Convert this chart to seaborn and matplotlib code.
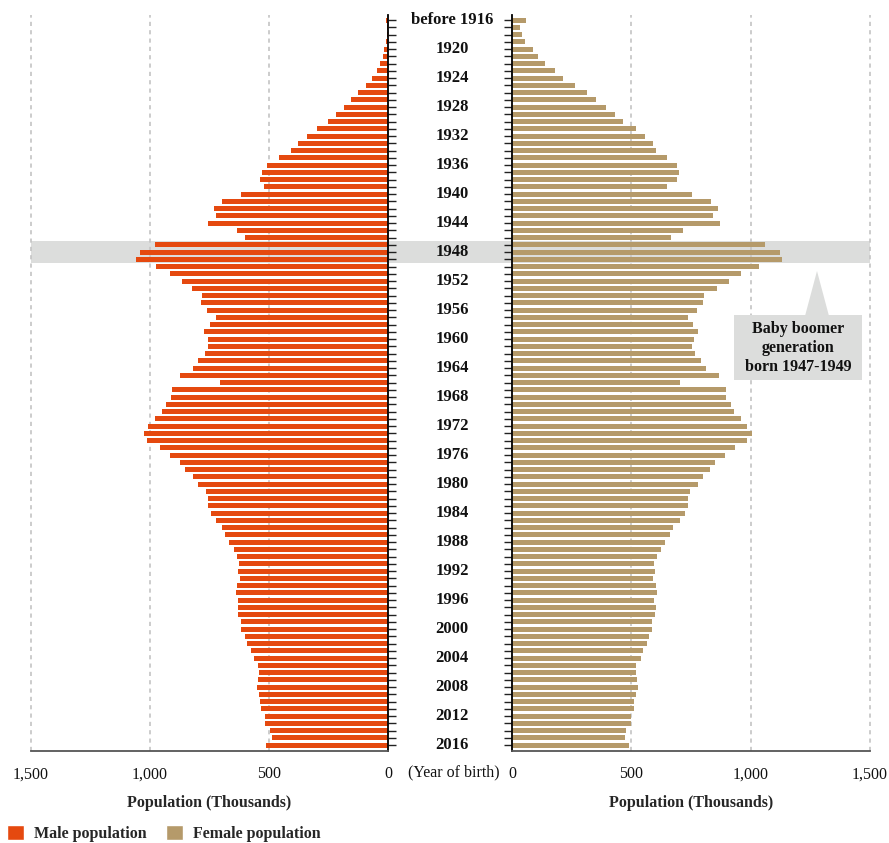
import matplotlib
matplotlib.use("Agg")
import matplotlib.pyplot as plt
import seaborn as sns
import pandas as pd
from matplotlib.patches import Patch, Rectangle, Polygon
from matplotlib.transforms import blended_transform_factory

# Birth-year cohorts (top row groups everyone born up to 1916)
years = ["before 1916"] + [str(y) for y in range(1917, 2017)]

# Population by year of birth, thousands
male = [10, 6, 6, 10, 18, 22, 35, 48, 69, 94, 127, 157, 186, 220, 253, 300, 342,
        379, 409, 459, 510, 531, 539, 522, 619, 699, 732, 724, 757, 636, 602, 980, 1043, 1060,
        976, 917, 867, 825, 783, 787, 762, 724, 749, 774, 757, 757, 770, 799, 820, 875, 707,
        909, 913, 934, 951, 980, 1009, 1026, 1014, 959, 917, 875, 854, 820, 799, 766, 757, 757,
        745, 724, 699, 686, 669, 648, 636, 627, 631, 623, 636, 640, 631, 631, 631, 619, 619,
        602, 594, 577, 564, 547, 543, 547, 552, 543, 539, 535, 518, 518, 497, 489, 514]
female = [57, 32, 41, 53, 87, 108, 137, 179, 212, 263, 313, 351, 393, 431, 464, 519, 556,
          590, 603, 649, 691, 699, 691, 649, 754, 833, 863, 842, 871, 716, 665, 1060, 1123, 1131,
          1035, 959, 909, 858, 804, 800, 775, 737, 758, 779, 762, 754, 766, 791, 812, 867, 703,
          896, 896, 917, 930, 959, 984, 1005, 984, 934, 892, 850, 829, 800, 779, 745, 737, 737,
          724, 703, 674, 661, 640, 624, 607, 594, 598, 590, 603, 607, 594, 603, 598, 586, 586,
          573, 565, 548, 540, 519, 519, 523, 527, 519, 510, 510, 498, 498, 477, 473, 489]

label_years = years[::4]
boomer_years = ["1947", "1949"]
x_ticks = [0, 500, 1000, 1500]
x_ticklabels = ["0", "500", "1,000", "1,500"]

MALE = "#e5490f"
FEMALE = "#b59a6a"
HL = "#dcdddc"
GRID = "#c4c4c4"

df = pd.DataFrame({"year": years, "male": male, "female": female})

sns.set_style("white")
plt.rcParams["font.family"] = ["Liberation Serif", "DejaVu Serif"]

W, H = 889, 843
fig = plt.figure(figsize=(W / 100, H / 100), dpi=100)


def fx(px):
    return px / W


def fy(py):
    return 1 - py / H


axL = fig.add_axes([fx(31), fy(751), fx(388) - fx(31), fy(15) - fy(751)])
axR = fig.add_axes([fx(512), fy(751), fx(870) - fx(512), fy(15) - fy(751)])

sns.barplot(data=df, x="male", y="year", order=years, orient="h", color=MALE,
            saturation=1, width=0.7, linewidth=0, ax=axL, zorder=2)
sns.barplot(data=df, x="female", y="year", order=years, orient="h", color=FEMALE,
            saturation=1, width=0.7, linewidth=0, ax=axR, zorder=2)

for ax in (axL, axR):
    ax.set_facecolor("none")
    ax.set_ylim(len(years) - 0.2, -0.7)
    ax.set_xticks(x_ticks)
    ax.set_xticklabels(x_ticklabels, fontsize=11.5, color="#111111")
    ax.set_yticks(range(len(years)))
    ax.set_yticklabels([])
    ax.set_ylabel("")
    ax.set_xlabel("Population (Thousands)", fontsize=11.5, fontweight="bold", labelpad=9)
    ax.xaxis.grid(True, linestyle=(0, (2.5, 2.5)), color=GRID, linewidth=1.2)
    ax.set_axisbelow(True)
    for gl in ax.get_xgridlines():
        gl.set_clip_on(False)
    for s in ax.spines.values():
        s.set_visible(False)
    ax.spines["bottom"].set_visible(True)
    ax.spines["bottom"].set_color("#555555")
    ax.spines["bottom"].set_linewidth(1.3)
    ax.tick_params(axis="x", length=5, width=1.2, color="#555555", pad=6)
    ax.tick_params(axis="y", length=5.5, width=1, color="#222222", direction="out")

axL.set_xlim(1500, 0)
axR.set_xlim(0, 1500)
axL.yaxis.tick_right()
axR.yaxis.tick_left()
axL.spines["right"].set_visible(True)
axL.spines["right"].set_color("black")
axL.spines["right"].set_linewidth(1.3)
axR.spines["left"].set_visible(True)
axR.spines["left"].set_color("black")
axR.spines["left"].set_linewidth(1.3)

# highlight band across both halves for the baby boom years
lo = years.index(boomer_years[0]) - 0.5
hi = years.index(boomer_years[1]) + 0.5
trans = blended_transform_factory(fig.transFigure, axL.transData)
fig.patches.append(Rectangle((fx(31), lo), fx(870) - fx(31), hi - lo, transform=trans,
                             facecolor=HL, edgecolor="none", zorder=-1))

# year labels in the middle column
for lab in label_years:
    fig.text(fx(452), years.index(lab), lab, transform=trans, ha="center", va="center",
             fontsize=12, fontweight="bold", color="#111111")

fig.text(fx(454), fy(772), "(Year of birth)", ha="center", va="center", fontsize=11.5,
         color="#111111")

# callout box
axR.add_patch(Polygon([(fx(817), fy(271)), (fx(805), fy(316)), (fx(829), fy(316))],
                      closed=True, transform=fig.transFigure, facecolor=HL,
                      edgecolor="none", zorder=3, clip_on=False))
axR.add_patch(Rectangle((fx(734), fy(380)), fx(862) - fx(734), fy(315) - fy(380),
                        transform=fig.transFigure, facecolor=HL, edgecolor="none",
                        zorder=3, clip_on=False))
axR.text(fx(798), fy(348), "Baby boomer\ngeneration\nborn 1947-1949", transform=fig.transFigure,
         ha="center", va="center", fontsize=11.5, fontweight="bold", linespacing=1.25,
         color="#111111", zorder=4)

handles = [Patch(facecolor=MALE, label="Male population"),
           Patch(facecolor=FEMALE, label="Female population")]
fig.legend(handles=handles, loc="lower left", bbox_to_anchor=(-0.005, -0.012), ncol=2,
           frameon=False, handlelength=1.1, handleheight=1.1, handletextpad=0.6,
           columnspacing=1.2, borderpad=0.2, prop={"size": 11.5, "weight": "bold"})

fig.savefig("out.png", dpi=100)
